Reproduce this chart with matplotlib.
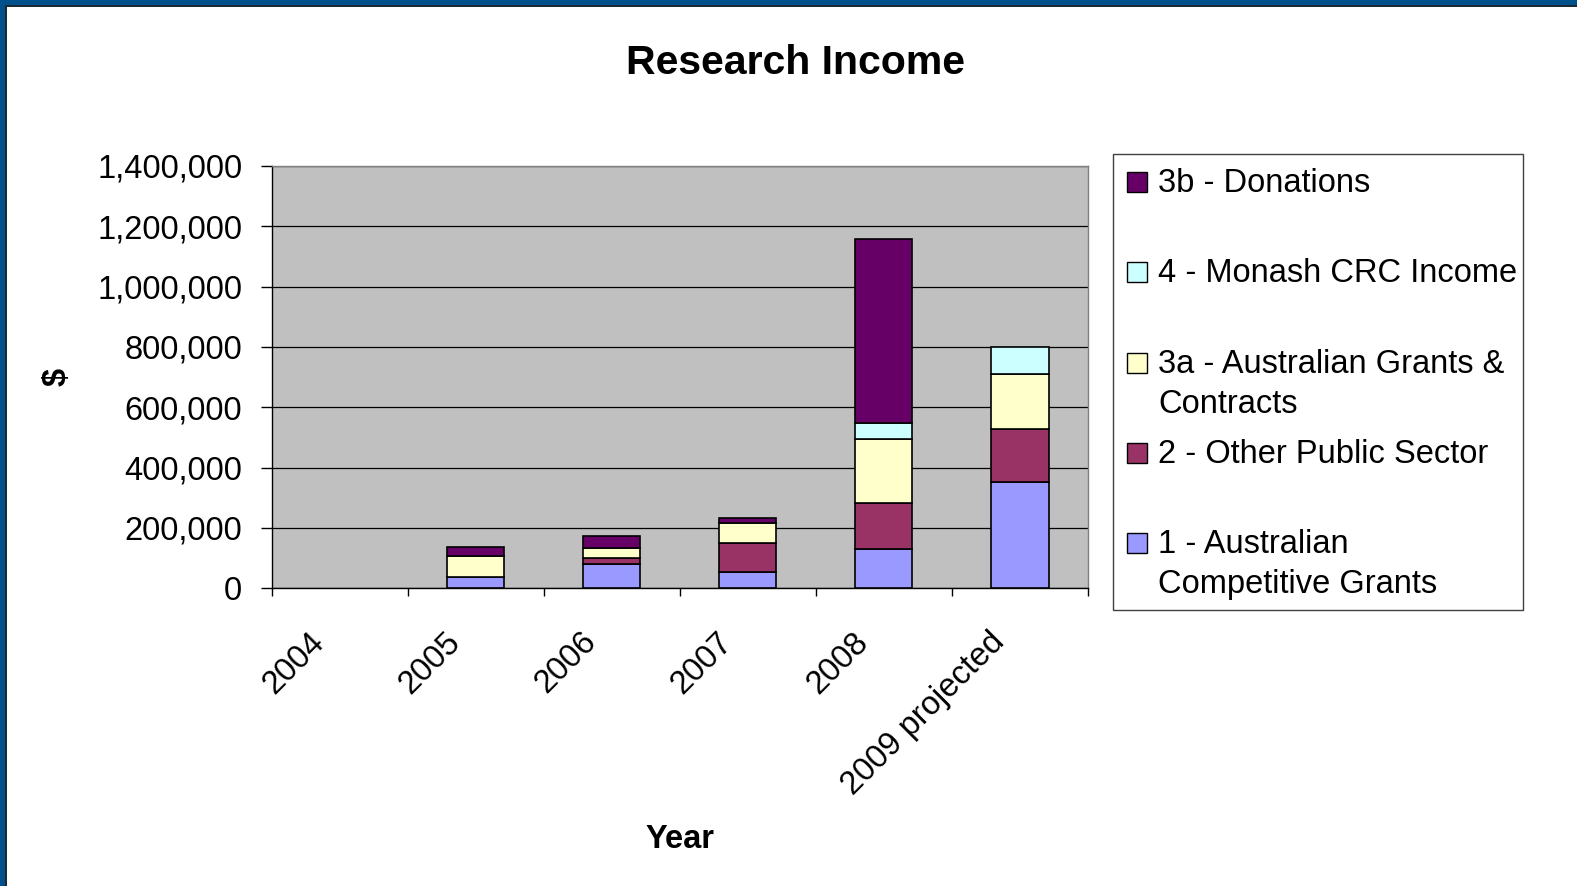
import matplotlib
matplotlib.use("Agg")
import matplotlib.pyplot as plt
import numpy as np
from matplotlib.patches import Rectangle
from matplotlib.transforms import ScaledTranslation

# ---- data ----
years = ['2004', '2005', '2006', '2007', '2008', '2009 projected']
competitive = [0, 39000, 79000, 54000, 130000, 354000]
other_public = [0, 0, 21000, 95000, 154000, 174000]
grants_contracts = [0, 69000, 35000, 66000, 210000, 182000]
monash_crc = [0, 0, 0, 0, 55000, 91000]
donations = [0, 29000, 37000, 19000, 608000, 0]

series_labels = ['1 - Australian\nCompetitive Grants', '2 - Other Public Sector',
                 '3a - Australian Grants &\nContracts', '4 - Monash CRC Income',
                 '3b - Donations']
series_values = [competitive, other_public, grants_contracts, monash_crc, donations]
series_colors = ['#9999FF', '#993366', '#FFFFCC', '#CCFFFF', '#660066']
yticks = [0, 200000, 400000, 600000, 800000, 1000000, 1200000, 1400000]

W, H = 1577, 886
plt.rcParams['font.family'] = ['Liberation Sans', 'DejaVu Sans']
fig = plt.figure(figsize=(W / 100, H / 100), dpi=100)
fig.patch.set_facecolor('white')

def fx(px):
    return px / W

def fy(py):
    return 1 - py / H

# slide frame (top and left blue edges)
fig.patches.append(Rectangle((0, fy(7)), 1, 7 / H, transform=fig.transFigure,
                             facecolor='#1C2834', edgecolor='none', zorder=0))
fig.patches.append(Rectangle((0, fy(5)), 1, 5 / H, transform=fig.transFigure,
                             facecolor='#00508B', edgecolor='none', zorder=1))
fig.patches.append(Rectangle((0, 0), 7 / W, 1, transform=fig.transFigure,
                             facecolor='#1C2834', edgecolor='none', zorder=0))
fig.patches.append(Rectangle((0, 0), 5 / W, 1, transform=fig.transFigure,
                             facecolor='#00508B', edgecolor='none', zorder=1))

ax_l, ax_r, ax_t, ax_b = 271.5, 1088, 166, 588.3
ax = fig.add_axes([fx(ax_l), fy(ax_b), (ax_r - ax_l) / W, (ax_b - ax_t) / H])
ax.set_facecolor('#C0C0C0')

x = np.arange(len(years))
bottom = np.zeros(len(years))
for vals, col, lab in zip(series_values, series_colors, series_labels):
    v = np.array(vals, dtype=float)
    lw = [1.2 if val > 0 else 0 for val in v]
    ax.bar(x, v, width=0.42, bottom=bottom, color=col, edgecolor='black',
           linewidth=lw, zorder=3, label=lab)
    bottom += v

ax.set_xlim(-0.5, len(years) - 0.5)
ax.set_ylim(0, 1400000)
ax.set_yticks(yticks)
ax.set_yticklabels([f'{v:,}' for v in yticks], fontsize=23.5)
ax.yaxis.grid(True, color='black', linewidth=0.9, zorder=1)
ax.set_axisbelow(True)

for s in ['top', 'right']:
    ax.spines[s].set_color('#808080')
    ax.spines[s].set_linewidth(1.0)
for s in ['left', 'bottom']:
    ax.spines[s].set_color('black')
    ax.spines[s].set_linewidth(1.0)

ax.tick_params(axis='y', direction='out', length=8, width=1, color='black', pad=13)
ax.set_xticks(x)
ax.set_xticklabels(years, fontsize=23.5, rotation=45, ha='right', va='center',
                   rotation_mode='anchor')
ax.tick_params(axis='x', which='major', length=0, pad=0)
ax.set_xticks(np.arange(-0.5, len(years)), minor=True)
ax.tick_params(axis='x', which='minor', direction='out', length=6, width=1, color='black')
off = ScaledTranslation(-20 / 100, -49 / 100, fig.dpi_scale_trans)
for lbl in ax.get_xticklabels():
    lbl.set_transform(lbl.get_transform() + off)

ax.set_xlabel('Year', fontsize=23.5, fontweight='bold', va='center')
ax.xaxis.set_label_coords(0.5, (ax_b - 839) / (ax_b - ax_t))
ax.set_ylabel('$', fontsize=23.5, fontweight='bold', va='center')
ax.yaxis.set_label_coords((57 - ax_l) / (ax_r - ax_l), 0.5)

fig.text(fx(796), fy(74.5), 'Research Income', ha='center', va='baseline',
         fontsize=29.5, fontweight='bold')

# legend box (Excel-style fixed pitch entries)
lx0, ly0, lx1, ly1 = 1113, 154, 1523, 609.5
fig.patches.append(Rectangle((fx(lx0), fy(ly1)), (lx1 - lx0) / W, (ly1 - ly0) / H,
                             transform=fig.transFigure, facecolor='white',
                             edgecolor='#404040', linewidth=1.0, zorder=2))
entries = list(zip(series_labels, series_colors))[::-1]
for i, (lab, col) in enumerate(entries):
    base = 192 + 90.3 * i
    fig.patches.append(Rectangle((fx(1127), fy(base)), 20 / W, 20 / H,
                                 transform=fig.transFigure, facecolor=col,
                                 edgecolor='black', linewidth=1.0, zorder=3))
    for j, line in enumerate(lab.split('\n')):
        fig.text(fx(1158), fy(base + 40 * j), line, ha='left', va='baseline',
                 fontsize=23.5, zorder=4)

fig.savefig('out.png', dpi=100, facecolor='white')
